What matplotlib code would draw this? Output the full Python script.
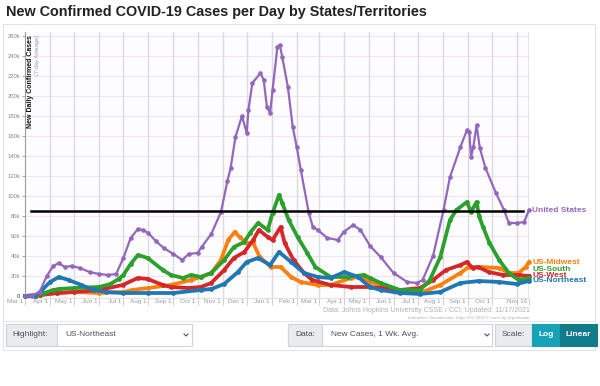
import datetime as dt
import numpy as np
import matplotlib.pyplot as plt
from matplotlib.patches import Rectangle
from matplotlib.lines import Line2D
from matplotlib.transforms import ScaledTranslation

plt.rcParams['font.family'] = ['Liberation Sans', 'DejaVu Sans']

# ---- data (thousands of new cases per day, 7-day average) ----
us_dates = ['2020-03-01', '2020-03-10', '2020-03-19', '2020-03-28', '2020-04-05', '2020-04-12',
            '2020-04-19', '2020-04-28', '2020-05-08', '2020-05-20', '2020-06-01', '2020-06-12',
            '2020-06-22', '2020-07-01', '2020-07-10', '2020-07-19', '2020-07-25', '2020-08-01',
            '2020-08-10', '2020-08-20', '2020-09-01', '2020-09-12', '2020-09-20', '2020-10-01',
            '2020-10-06', '2020-10-18', '2020-10-30', '2020-11-07', '2020-11-11', '2020-11-17',
            '2020-11-25', '2020-12-01', '2020-12-03', '2020-12-08', '2020-12-18', '2020-12-22',
            '2020-12-26', '2020-12-30', '2021-01-02', '2021-01-08', '2021-01-11', '2021-01-14',
            '2021-01-21', '2021-01-27', '2021-02-01', '2021-02-06', '2021-02-16', '2021-02-21',
            '2021-02-27', '2021-03-11', '2021-03-24', '2021-03-31', '2021-04-12', '2021-04-21',
            '2021-05-03', '2021-05-16', '2021-06-01', '2021-06-18', '2021-06-30', '2021-07-07',
            '2021-07-20', '2021-08-02', '2021-08-10', '2021-08-23', '2021-08-31', '2021-09-03',
            '2021-09-05', '2021-09-08', '2021-09-12', '2021-09-16', '2021-09-23', '2021-10-06',
            '2021-10-16', '2021-10-22', '2021-11-01', '2021-11-10', '2021-11-16']
us_vals = [0, 0.5, 4, 20, 30, 33,
           29, 30, 28, 24, 22, 21,
           22, 38, 58, 67, 66, 63,
           55, 48, 42, 36, 42, 43,
           49, 62, 84, 115, 128, 159,
           180, 163, 186, 213, 223, 216,
           189, 183, 206, 249, 251, 239,
           209, 169, 149, 126, 83, 69,
           66, 58, 56, 64, 71, 66,
           50, 39, 23, 14, 13, 16,
           40, 86, 119, 149, 166, 164,
           139, 149, 171, 148, 128, 103,
           86, 73, 73, 74, 86]

south_dates = ['2020-03-01', '2020-03-15', '2020-03-25', '2020-04-05', '2020-04-12', '2020-05-01',
               '2020-06-01', '2020-06-15', '2020-06-25', '2020-07-01', '2020-07-10', '2020-07-19',
               '2020-07-31', '2020-08-19', '2020-08-29', '2020-09-13', '2020-09-23', '2020-10-05',
               '2020-10-18', '2020-11-03', '2020-11-15', '2020-11-28', '2020-12-05', '2020-12-15',
               '2020-12-27', '2021-01-02', '2021-01-10', '2021-01-14', '2021-01-22', '2021-02-02',
               '2021-02-14', '2021-02-24', '2021-03-15', '2021-04-05', '2021-04-25', '2021-05-03',
               '2021-05-16', '2021-06-09', '2021-07-04', '2021-07-16', '2021-07-29', '2021-08-10',
               '2021-08-18', '2021-08-31', '2021-09-05', '2021-09-12', '2021-09-15', '2021-09-20',
               '2021-09-28', '2021-10-10', '2021-10-22', '2021-11-03', '2021-11-16']
south_vals = [0, 0.5, 3, 6, 7, 8,
              9, 12, 17, 21, 32, 41,
              38, 26, 21, 18, 21, 19,
              23, 36, 49, 54, 63, 73,
              66, 83, 101, 93, 76, 59,
              43, 29, 19, 19, 21, 18,
              13, 6, 6, 16, 39, 76,
              86, 94, 84, 94, 80, 69,
              53, 36, 23, 16, 18]

midwest_dates = ['2020-03-01', '2020-03-20', '2020-04-10', '2020-05-01', '2020-06-01', '2020-07-01',
                 '2020-07-12', '2020-08-01', '2020-08-29', '2020-09-23', '2020-10-05', '2020-10-18',
                 '2020-10-30', '2020-11-08', '2020-11-16', '2020-11-22', '2020-12-01', '2020-12-09',
                 '2020-12-17', '2020-12-31', '2021-01-12', '2021-01-25', '2021-02-06', '2021-02-27',
                 '2021-03-15', '2021-04-09', '2021-04-21', '2021-05-03', '2021-05-16', '2021-06-09',
                 '2021-07-04', '2021-07-29', '2021-08-23', '2021-09-02', '2021-09-18', '2021-10-10',
                 '2021-10-22', '2021-11-03', '2021-11-12', '2021-11-16']
midwest_vals = [0, 1, 3, 4, 3, 4,
                6, 8, 11, 16, 19, 23,
                36, 56, 64, 59, 53, 53,
                39, 29, 29, 19, 14, 11,
                11, 18, 19, 14, 11, 4,
                3, 11, 23, 29, 29, 28,
                23, 23, 29, 34]

west_dates = ['2020-03-01', '2020-03-20', '2020-04-10', '2020-05-01', '2020-06-01', '2020-06-30',
              '2020-07-19', '2020-07-31', '2020-08-19', '2020-08-29', '2020-09-19', '2020-10-05',
              '2020-10-18', '2020-11-03', '2020-11-15', '2020-11-28', '2020-12-09', '2020-12-16',
              '2020-12-27', '2021-01-02', '2021-01-12', '2021-01-17', '2021-01-28', '2021-02-10',
              '2021-02-20', '2021-03-15', '2021-04-09', '2021-05-03', '2021-05-16', '2021-06-09',
              '2021-07-04', '2021-07-20', '2021-08-05', '2021-08-23', '2021-08-31', '2021-09-07',
              '2021-09-14', '2021-09-27', '2021-10-15', '2021-11-03', '2021-11-16']
west_vals = [0, 1, 3, 4, 6, 11,
             18, 17, 11, 9, 8, 9,
             13, 26, 38, 44, 56, 66,
             59, 56, 69, 53, 36, 23,
             16, 11, 9, 9, 8, 6,
             8, 16, 26, 31, 34, 28,
             29, 24, 21, 21, 20]

northeast_dates = ['2020-03-01', '2020-03-14', '2020-03-21', '2020-04-01', '2020-04-12', '2020-04-24',
                   '2020-05-10', '2020-05-25', '2020-06-10', '2020-06-30', '2020-08-01', '2020-09-01',
                   '2020-10-05', '2020-10-18', '2020-11-03', '2020-11-20', '2020-12-01', '2020-12-15',
                   '2020-12-30', '2021-01-10', '2021-01-25', '2021-02-10', '2021-02-27', '2021-03-15',
                   '2021-04-01', '2021-04-18', '2021-05-03', '2021-05-16', '2021-06-09', '2021-07-04',
                   '2021-07-29', '2021-08-23', '2021-09-15', '2021-10-10', '2021-11-01', '2021-11-16']
northeast_vals = [0, 0.5, 5, 14, 19, 16,
                  11, 6, 4, 3, 3, 3,
                  6, 7, 12, 24, 34, 38,
                  31, 44, 34, 23, 19, 18,
                  24, 19, 9, 6, 3, 2,
                  4, 13, 15, 14, 12, 15]

us_ref_value = 85
us_ref_span = ['2020-03-08', '2021-11-08']

month_ticks = ['2020-03-01', '2020-04-01', '2020-05-01', '2020-06-01', '2020-07-01', '2020-08-01',
               '2020-09-01', '2020-10-01', '2020-11-01', '2020-12-01', '2021-01-01', '2021-02-01',
               '2021-03-01', '2021-04-01', '2021-05-01', '2021-06-01', '2021-07-01', '2021-08-01',
               '2021-09-01', '2021-10-01', '2021-11-01']
month_labels = ['Mar 1', 'Apr 1', 'May 1', 'Jun 1', 'Jul 1', 'Aug 1', 'Sep 1', 'Oct 1', 'Nov 1',
                'Dec 1', 'Jan 1', 'Feb 1', 'Mar 1', 'Apr 1', 'May 1', 'Jun 1', 'Jul 1', 'Aug 1',
                'Sep 1', 'Oct 1', '']
end_date = '2021-11-16'
end_label = 'Nov 16'
y_ticks = list(range(0, 261, 20))
y_labels = ['0'] + [f'{v}k' for v in y_ticks[1:]]

series = [
    ('US-Midwest', midwest_dates, midwest_vals, '#ff7f0e', 33),
    ('US-West', west_dates, west_vals, '#d62728', 20.5),
    ('US-South', south_dates, south_vals, '#2ca02c', 26.5),
    ('US-Northeast', northeast_dates, northeast_vals, '#1f77b4', 15),
]


def d(s):
    return np.array(s, dtype='datetime64[D]')


def fx(px):
    return px / 600


def fy(py):
    return 1 - py / 386


fig = plt.figure(figsize=(6, 3.86), dpi=100)
fig.patch.set_facecolor('white')

# outer card
fig.add_artist(Rectangle((fx(3), fy(350)), fx(592), 326 / 386, transform=fig.transFigure,
                         fill=False, edgecolor='#e3e3e3', lw=0.8))
fig.add_artist(Line2D([fx(3), fx(595)], [fy(321), fy(321)], transform=fig.transFigure,
                      color='#e8e8e8', lw=0.8))

fig.text(fx(6), fy(12), 'New Confirmed COVID-19 Cases per Day by States/Territories',
         fontsize=10.4, fontweight='bold', va='center', ha='left', color='#222')

ax = fig.add_axes([fx(25), fy(298), 504 / 600, 266 / 386])
ax.set_facecolor('#fdfcff')
ax.set_ylim(-2, 264)
ax.set_xlim(d('2020-03-01'), d(end_date))

for v in y_ticks[1:]:
    ax.axhline(v, color='#f1e6f0', lw=0.8, zorder=0)
for m in month_ticks[1:]:
    ax.axvline(d(m), color='#dcdcdc', lw=1, zorder=0)
ax.axvline(d(end_date), color='#8a8a8a', lw=1, zorder=1)

for name, dates, vals, color, lab_y in series:
    ax.plot(d(dates), vals, color=color, lw=2.7, marker='o', ms=2.4, clip_on=False, zorder=3)
ax.plot(d(us_dates), us_vals, color='#9467bd', lw=1.6, marker='o', ms=2.3, clip_on=False, zorder=4)

ax.plot(d(us_ref_span), [us_ref_value, us_ref_value], color='black', lw=1.8, zorder=5)

# labels at the right end
lab_x = d(end_date) + np.timedelta64(4, 'D')
ax.text(lab_x, 85, 'United States', color='#9467bd', fontsize=6, fontweight='bold',
        va='center', ha='left', clip_on=False)
for name, dates, vals, color, lab_y in series:
    ax.text(lab_x, lab_y, name, color=color, fontsize=6, fontweight='bold',
            va='center', ha='left', clip_on=False)

# axes styling
for s in ['top', 'right']:
    ax.spines[s].set_visible(False)
ax.spines['bottom'].set_color('#e0e0e0')
ax.spines['left'].set_color('#9a9a9a')
ax.spines['left'].set_linewidth(0.8)

ax.set_yticks(y_ticks, y_labels)
ax.tick_params(axis='y', length=2.5, width=0.6, color='#999', labelsize=4.2,
               labelcolor='#888', pad=1)
ax.get_yticklabels()[0].set_color('#333')

xt = [d(m) for m in month_ticks] + [d(end_date)]
xl = month_labels + [end_label]
ax.set_xticks(xt, xl)
ax.tick_params(axis='x', length=5, width=0.6, color='#c8c8c8', labelsize=4.6,
               labelcolor='#9a9a9a', pad=-4.5)
shift = ScaledTranslation(-2 / 100, 0, fig.dpi_scale_trans)
for lbl in ax.get_xticklabels():
    lbl.set_ha('right')
    lbl.set_transform(lbl.get_transform() + shift)

fig.text(fx(30), fy(35), 'New Daily Confirmed Cases', rotation=90, va='top', ha='center',
         fontsize=5, fontweight='bold', color='#111')
fig.text(fx(37), fy(35), '(7-day Average)', rotation=90, va='top', ha='center',
         fontsize=4.1, color='#999')

# credits
fig.text(fx(530), fy(311), 'Data: Johns Hopkins University CSSE / CCI; Updated: 11/17/2021',
         fontsize=5, color='#b0b0b0', ha='right', va='center')
fig.text(fx(530), fy(317.5), 'Interactive Visualization: https://91-DIVOC.com/ by @profwade',
         fontsize=3.2, color='#b0b0b0', ha='right', va='center')


# control bar
def box(x0, x1, y0, y1, face, edge='#ced4da'):
    fig.add_artist(Rectangle((fx(x0), fy(y1)), fx(x1 - x0), (y1 - y0) / 386,
                             transform=fig.transFigure, facecolor=face, edgecolor=edge, lw=0.8))


def chevron(x, y):
    fig.add_artist(Line2D([fx(x - 2), fx(x), fx(x + 2)], [fy(y - 1), fy(y + 1), fy(y - 1)],
                          transform=fig.transFigure, color='#555', lw=0.8))


by0, by1, bc = 324, 346, 335
box(6, 192, by0, by1, 'white')
box(6, 57, by0, by1, '#e9ecef')
fig.text(fx(12), fy(bc), 'Highlight:', fontsize=6, color='#495057', va='center')
fig.text(fx(65), fy(bc), 'US-Northeast', fontsize=6, color='#495057', va='center')
chevron(186, bc)

box(288, 492, by0, by1, 'white')
box(288, 322, by0, by1, '#e9ecef')
fig.text(fx(295), fy(bc), 'Data:', fontsize=6, color='#495057', va='center')
fig.text(fx(331), fy(bc), 'New Cases, 1 Wk. Avg.', fontsize=6, color='#495057', va='center')
chevron(487, bc)

box(495, 532, by0, by1, '#e9ecef')
fig.text(fx(502), fy(bc), 'Scale:', fontsize=6, color='#495057', va='center')
box(532, 560, by0, by1, '#17a2b8', '#17a2b8')
fig.text(fx(546), fy(bc), 'Log', fontsize=6, color='white', va='center', ha='center',
         fontweight='bold')
box(560, 597, by0, by1, '#117a8b', '#117a8b')
fig.text(fx(578.5), fy(bc), 'Linear', fontsize=6, color='white', va='center', ha='center',
         fontweight='bold')

fig.savefig('out.png', dpi=100)
